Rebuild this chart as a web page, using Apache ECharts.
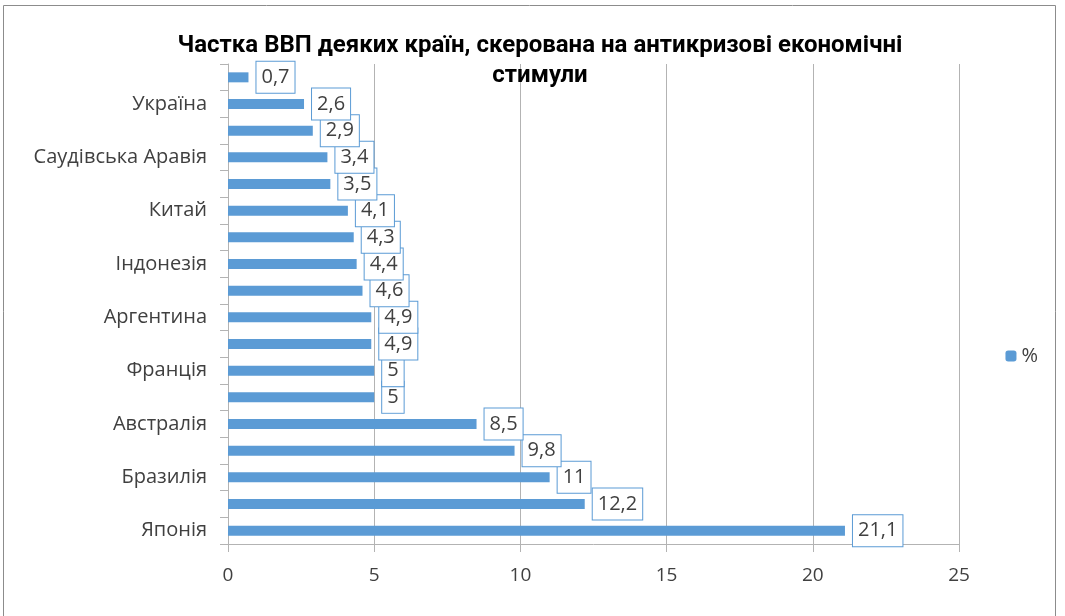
<!DOCTYPE html>
<html><head><meta charset="utf-8">
<script src="https://cdn.jsdelivr.net/npm/echarts@6/dist/echarts.min.js"></script>
<style>html,body{margin:0;padding:0;background:#fff}#c{width:1065px;height:616px}</style>
</head><body><div id="c"></div>
<script>
const categories = ['Японія','США','Бразилія','Канада','Австралія','Німеччина','Франція','Корея','Аргентина','Індія','Індонезія','Мексика','Китай','Велика Британія','Саудівська Аравія','Туреччина','Україна','Росія'];
const values = [21.1,12.2,11,9.8,8.5,5,5,4.9,4.9,4.6,4.4,4.3,4.1,3.5,3.4,2.9,2.6,0.7];
const seriesName = '%';
const titleText = 'Частка ВВП деяких країн, скерована на антикризові економічні\nстимули';

const chart = echarts.init(document.getElementById('c'));
chart.setOption({
  animation:false,
  title:{text:titleText,left:535,textAlign:'center',top:26,
    textStyle:{fontFamily:'Roboto',fontWeight:'bold',fontSize:24,color:'#000',lineHeight:30}},
  graphic:[{type:'rect',shape:{x:3.5,y:5.5,width:1052,height:620},style:{fill:'none',stroke:'#8c8c8c',lineWidth:1},silent:true}],
  legend:{data:[seriesName],right:22,top:341,orient:'vertical',itemWidth:11,itemHeight:11,itemGap:5,
    textStyle:{fontFamily:'Open Sans',fontSize:20,color:'#404040'}},
  grid:{left:228,right:106,top:64,bottom:72,containLabel:false},
  xAxis:{type:'value',min:0,max:25,interval:5,
    axisLine:{show:true,lineStyle:{color:'#b3b3b3'}},
    axisTick:{show:true,length:8,lineStyle:{color:'#b3b3b3'}},
    splitLine:{show:true,lineStyle:{color:'#b3b3b3'}},
    axisLabel:{fontFamily:'Open Sans',fontSize:19,color:'#404040',margin:22}},
  yAxis:{type:'category',data:categories,
    axisLine:{show:true,lineStyle:{color:'#b3b3b3'}},
    axisTick:{show:true,length:8,interval:0,lineStyle:{color:'#b3b3b3'}},
    axisLabel:{interval:1,fontFamily:'Open Sans',fontSize:20,color:'#404040',margin:21}},
  series:[{name:seriesName,type:'bar',data:values,barWidth:10,
    itemStyle:{color:'#5b9bd5'},
    label:{show:true,position:'right',distance:8,fontFamily:'Open Sans',fontSize:20,color:'#404040',
      backgroundColor:'#fff',borderColor:'#5b9bd5',borderWidth:1,padding:[6,5,5,5],
      formatter:p=>String(p.value).replace('.',',')}}]
});
</script></body></html>
